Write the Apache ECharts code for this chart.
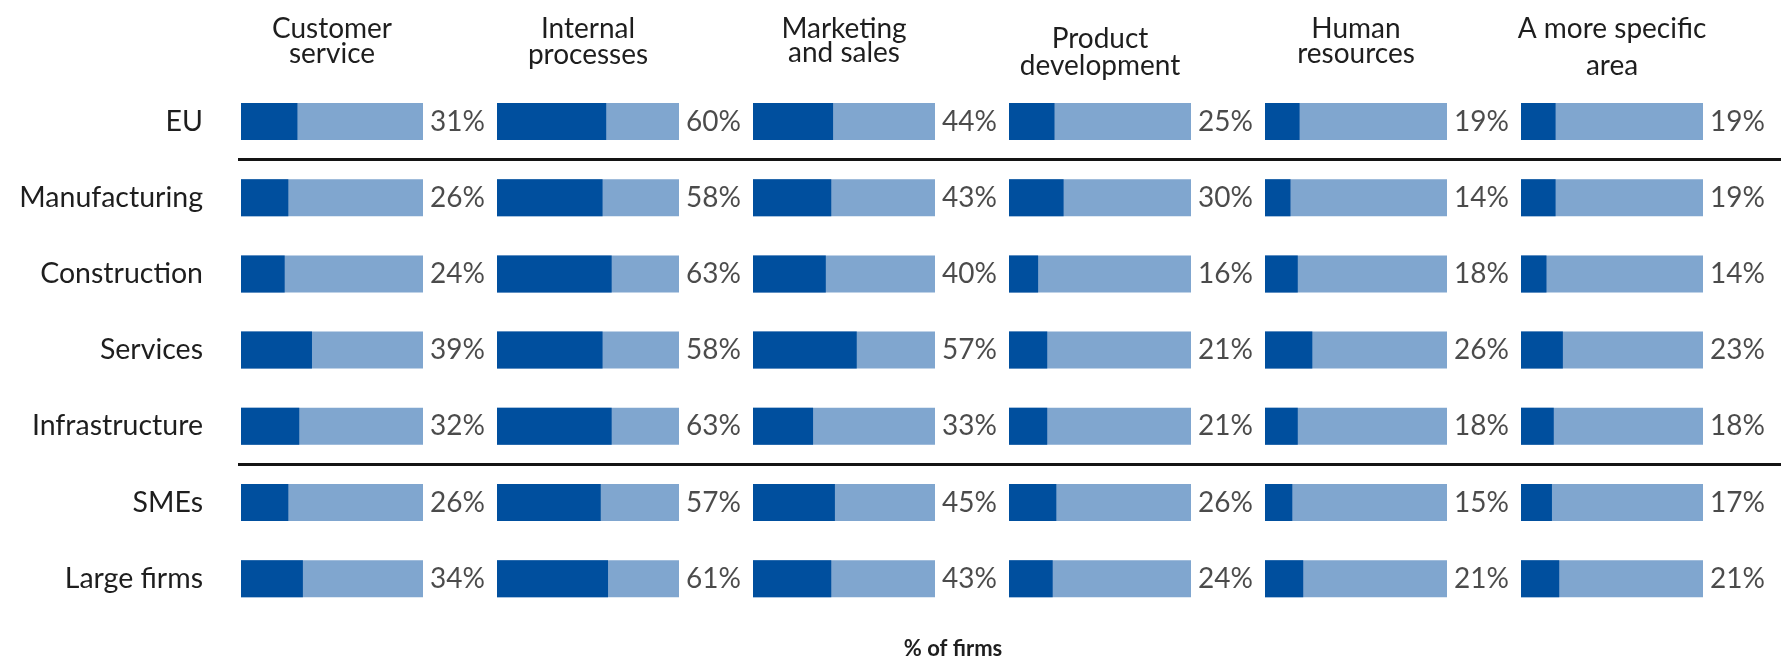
<!DOCTYPE html>
<html>
<head>
<meta charset="utf-8">
<script src="https://cdn.jsdelivr.net/npm/echarts@6/dist/echarts.min.js"></script>
<style>
html,body{margin:0;padding:0;background:#fff;}
#chart{width:1781px;height:659px;}
</style>
</head>
<body>
<div id="chart"></div>
<script>
// ---- Data ----
const categories = ['EU', 'Manufacturing', 'Construction', 'Services', 'Infrastructure', 'SMEs', 'Large firms'];
const areaTitles = [
  ['Customer', 'service'],
  ['Internal', 'processes'],
  ['Marketing', 'and sales'],
  ['Product', 'development'],
  ['Human', 'resources'],
  ['A more specific', 'area']
];
const customerService    = [31, 26, 24, 39, 32, 26, 34];
const internalProcesses  = [60, 58, 63, 58, 63, 57, 61];
const marketingSales     = [44, 43, 40, 57, 33, 45, 43];
const productDevelopment = [25, 30, 16, 21, 21, 26, 24];
const humanResources     = [19, 14, 18, 26, 18, 15, 21];
const specificArea       = [19, 19, 14, 23, 18, 17, 21];
const axisTitle = '% of firms';
const FULL = 100;

const seriesValues = [customerService, internalProcesses, marketingSales, productDevelopment, humanResources, specificArea];

// ---- Layout / style ----
const FONT = 'Lato, "Open Sans", sans-serif';
const TEXT = '#1e1e1e';
const DARK = '#004f9e';
const LIGHT = '#80a6cf';
const colLeft0 = 241, colStep = 256, colWidth = 182;
const rowCenter0 = 121.5, rowStep = 76.2;
const gridTop = rowCenter0 - rowStep / 2;
const gridHeight = rowStep * categories.length;
const headerLines = [[29, 54], [29, 55], [29, 53], [39, 66], [29, 54], [29, 66]];

const grids = [], xAxes = [], yAxes = [], series = [], graphics = [];
seriesValues.forEach((vals, i) => {
  const left = colLeft0 + i * colStep;
  grids.push({left: left, top: gridTop, width: colWidth, height: gridHeight, containLabel: false});
  xAxes.push({gridIndex: i, type: 'value', min: 0, max: FULL, show: false});
  yAxes.push({
    gridIndex: i, type: 'category', data: categories, inverse: true,
    axisLine: {show: false}, axisTick: {show: false}, splitLine: {show: false},
    axisLabel: {show: i === 0, margin: 38, fontFamily: FONT, fontSize: 28.5, color: TEXT}
  });
  series.push({
    type: 'bar', xAxisIndex: i, yAxisIndex: i, data: vals, barWidth: 37,
    itemStyle: {color: DARK},
    showBackground: true, backgroundStyle: {color: LIGHT},
    silent: true, animation: false
  });
  series.push({
    type: 'scatter', xAxisIndex: i, yAxisIndex: i,
    data: vals.map((v, k) => [FULL, k, v]),
    symbolSize: 0, silent: true, animation: false,
    label: {
      show: true, position: 'right', distance: 7,
      formatter: p => p.data[2] + '%',
      fontFamily: FONT, fontSize: 28, color: TEXT
    }
  });
  const cx = left + colWidth / 2;
  areaTitles[i].forEach((line, j) => {
    graphics.push({
      type: 'text', x: cx, y: headerLines[i][j],
      style: {text: line, align: 'center', verticalAlign: 'middle', font: '28px ' + FONT, fill: TEXT}
    });
  });
});

// separator lines (between EU & sectors, between sectors & size classes)
[1, 5].forEach(k => {
  const y = rowCenter0 + rowStep * (k - 0.5);
  graphics.push({
    type: 'line', shape: {x1: 238, y1: y, x2: 1781, y2: y},
    style: {stroke: '#141414', lineWidth: 3}
  });
});

graphics.push({
  type: 'text', x: 953, y: 649,
  style: {text: axisTitle, align: 'center', verticalAlign: 'middle', font: 'bold 22px ' + FONT, fill: TEXT}
});

const chart = echarts.init(document.getElementById('chart'), null, {renderer: 'canvas'});
chart.setOption({
  animation: false,
  grid: grids, xAxis: xAxes, yAxis: yAxes, series: series,
  graphic: graphics
});
</script>
</body>
</html>
